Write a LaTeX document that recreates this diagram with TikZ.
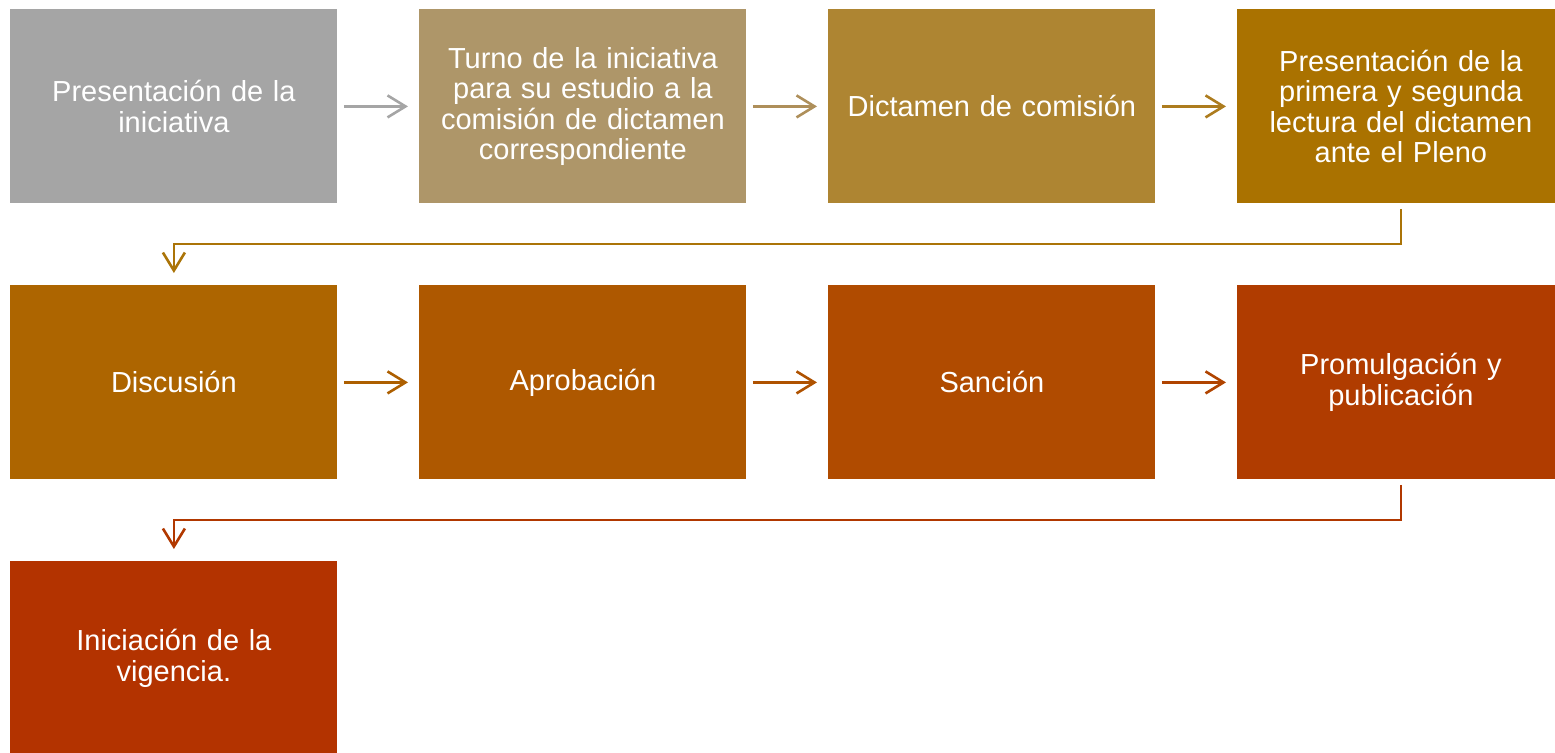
\documentclass[tikz,border=0pt]{standalone}
\usepackage{fontspec}
\setmainfont{Liberation Sans}
\usetikzlibrary{arrows.meta}
\definecolor{c1}{HTML}{A5A5A5}
\definecolor{c2}{HTML}{AE9669}
\definecolor{c3}{HTML}{AE8532}
\definecolor{c4}{HTML}{AA7200}
\definecolor{c5}{HTML}{AD6500}
\definecolor{c6}{HTML}{AE5800}
\definecolor{c7}{HTML}{B04B00}
\definecolor{c8}{HTML}{B03C00}
\definecolor{c9}{HTML}{B33300}
\definecolor{a1}{HTML}{A5A5A5}
\definecolor{a2}{HTML}{AE8F5A}
\definecolor{a3}{HTML}{AD7C1E}
\definecolor{a4}{HTML}{AB7408}
\definecolor{a5}{HTML}{AD5F00}
\definecolor{a6}{HTML}{AF5200}
\definecolor{a7}{HTML}{B04400}
\definecolor{a8}{HTML}{B13800}
\begin{document}
\begin{tikzpicture}[x=0.5pt,y=-0.5pt,
  stepbox/.style={fill=#1, draw=none, minimum width=163.5pt, minimum height=97pt,
    inner sep=0pt, text width=150pt, align=center, text=white,
    font=\fontsize{14.5}{15.3}\selectfont, anchor=north west},
  flow/.style={draw=#1, line width=1.3pt, -{Straight Barb[length=9pt,width=11pt,line width=1.3pt]}}
]
\useasboundingbox (0,0) rectangle (1555,752);
\begin{scope}
\clip (0,0) rectangle (1555,752);
\node[stepbox=c1] (b1) at (10,9) {Presentación de la\\iniciativa};
\node[stepbox=c2] (b2) at (419,9) {Turno de la iniciativa\\para su estudio a la\\comisión de dictamen\\correspondiente};
\node[stepbox=c3] (b3) at (828,9) {Dictamen de comisión};
\node[stepbox=c4] (b4) at (1237,9) {Presentación de la\\primera y segunda\\lectura del dictamen\\ante el Pleno};
\node[stepbox=c5] (b5) at (10,285) {Discusión};
\node[stepbox=c6] (b6) at (419,285) {Aprobación};
\node[stepbox=c7] (b7) at (828,285) {Sanción};
\node[stepbox=c8] (b8) at (1237,285) {Promulgación y\\publicación};
\node[stepbox=c9] (b9) at (10,561) {Iniciación de la\\vigencia.};
\end{scope}
\draw[flow=a1] ([xshift=3pt]b1.east) -- ([xshift=-5.5pt]b2.west);
\draw[flow=a2] ([xshift=3pt]b2.east) -- ([xshift=-5.5pt]b3.west);
\draw[flow=a3] ([xshift=3pt]b3.east) -- ([xshift=-5.5pt]b4.west);
\draw[flow=a5] ([xshift=3pt]b5.east) -- ([xshift=-5.5pt]b6.west);
\draw[flow=a6] ([xshift=3pt]b6.east) -- ([xshift=-5.5pt]b7.west);
\draw[flow=a7] ([xshift=3pt]b7.east) -- ([xshift=-5.5pt]b8.west);
\draw[flow=a4] ([yshift=-2.5pt]b4.south) -- ++(0,35) -| ([yshift=6pt]b5.north);
\draw[flow=a8] ([yshift=-2.5pt]b8.south) -- ++(0,35) -| ([yshift=6pt]b9.north);
\end{tikzpicture}
\end{document}
